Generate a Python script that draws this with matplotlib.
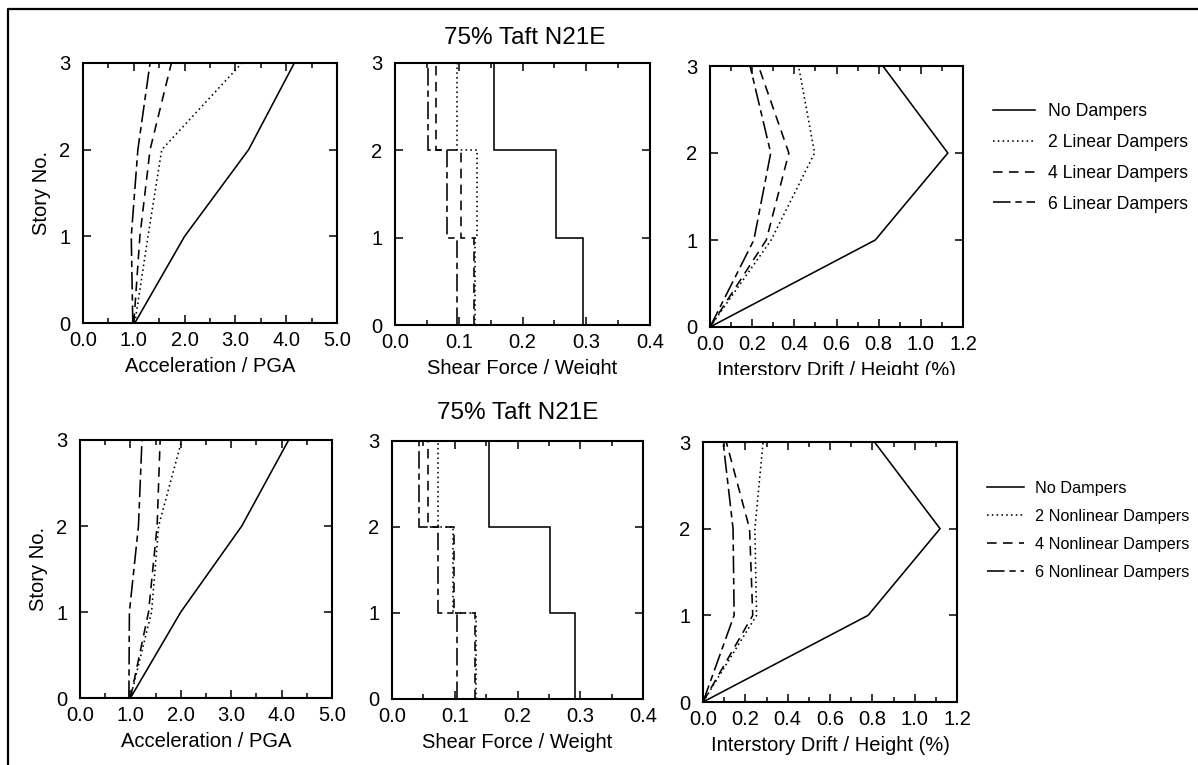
import matplotlib
matplotlib.use("Agg")
import matplotlib.pyplot as plt
from matplotlib.lines import Line2D
from matplotlib.patches import Rectangle
from matplotlib.ticker import MultipleLocator, FormatStrFormatter

plt.rcParams["font.family"] = ["Liberation Sans", "DejaVu Sans"]

# ---------------- data ----------------
story_levels = [0, 1, 2, 3]          # floor levels for acceleration / drift profiles
story_edges = [0, 1, 2, 3]           # story boundaries for shear steps

title_text = "75% Taft N21E"
labels_linear = ["No Dampers", "2 Linear Dampers", "4 Linear Dampers", "6 Linear Dampers"]
labels_nonlinear = ["No Dampers", "2 Nonlinear Dampers", "4 Nonlinear Dampers", "6 Nonlinear Dampers"]

# Linear dampers (upper row)
acc_lin_none = [1.02, 2.00, 3.26, 4.16]
acc_lin_2 = [1.02, 1.28, 1.55, 3.13]
acc_lin_4 = [1.00, 1.12, 1.32, 1.74]
acc_lin_6 = [0.98, 0.95, 1.08, 1.32]

shear_lin_none = [0.295, 0.253, 0.156]
shear_lin_2 = [0.126, 0.129, 0.097]
shear_lin_4 = [0.124, 0.104, 0.064]
shear_lin_6 = [0.097, 0.082, 0.051]

drift_lin_none = [0.0, 0.784, 1.128, 0.820]
drift_lin_2 = [0.0, 0.290, 0.496, 0.420]
drift_lin_4 = [0.0, 0.267, 0.374, 0.230]
drift_lin_6 = [0.0, 0.208, 0.288, 0.190]

# Nonlinear dampers (lower row)
acc_nl_none = [1.00, 2.00, 3.21, 4.14]
acc_nl_2 = [1.00, 1.42, 1.56, 2.02]
acc_nl_4 = [1.00, 1.36, 1.53, 1.59]
acc_nl_6 = [0.97, 0.98, 1.16, 1.23]

shear_nl_none = [0.292, 0.251, 0.155]
shear_nl_2 = [0.134, 0.097, 0.074]
shear_nl_4 = [0.133, 0.099, 0.058]
shear_nl_6 = [0.103, 0.073, 0.043]

drift_nl_none = [0.0, 0.780, 1.120, 0.810]
drift_nl_2 = [0.0, 0.253, 0.245, 0.284]
drift_nl_4 = [0.0, 0.235, 0.220, 0.110]
drift_nl_6 = [0.0, 0.147, 0.142, 0.095]

# ---------------- styling ----------------
STYLES = ["-", (0, (1, 2)), (0, (6, 4)), (0, (11, 3, 4, 3))]
LW = 1.15
TICK_FS = 14.5
LABEL_FS = 14.5

W, H = 1198, 765
fig = plt.figure(figsize=(W / 100, H / 100), dpi=100)
fig.patch.set_facecolor("white")


def axes_px(left, right, top, bottom):
    return fig.add_axes([left / W, 1 - bottom / H, (right - left) / W, (bottom - top) / H])


def style_axes(ax, xmax, major, minor, fmt, xlabel, ylabel=None):
    ax.set_xlim(0, xmax)
    ax.set_ylim(0, 3)
    ax.xaxis.set_major_locator(MultipleLocator(major))
    ax.xaxis.set_minor_locator(MultipleLocator(minor))
    ax.xaxis.set_major_formatter(FormatStrFormatter(fmt))
    ax.yaxis.set_major_locator(MultipleLocator(1))
    ax.tick_params(which="both", direction="in", top=True, right=True, width=1.1)
    ax.tick_params(which="major", length=6, labelsize=TICK_FS)
    ax.tick_params(which="minor", length=3.5)
    ax.tick_params(axis="x", pad=6)
    ax.tick_params(axis="y", pad=9)
    for s in ax.spines.values():
        s.set_linewidth(1.5)
    ax.set_xlabel(xlabel, fontsize=LABEL_FS, labelpad=5)
    if ylabel:
        ax.set_ylabel(ylabel, fontsize=LABEL_FS, labelpad=6)


def profile(ax, series, labels):
    handles = []
    for vals, ls, lab in zip(series, STYLES, labels):
        (ln,) = ax.plot(vals, story_levels, color="black", lw=LW, linestyle=ls, label=lab)
        handles.append(ln)
    return handles


def shear(ax, series):
    for vals, ls in zip(series, STYLES):
        ax.stairs(vals, story_edges, orientation="horizontal", baseline=None,
                  color="black", lw=LW, linestyle=ls)


rows = [
    dict(box=[(83, 337, 63, 323), (395, 650, 63, 325), (710, 963, 66, 327)],
         acc=[acc_lin_none, acc_lin_2, acc_lin_4, acc_lin_6],
         shr=[shear_lin_none, shear_lin_2, shear_lin_4, shear_lin_6],
         dft=[drift_lin_none, drift_lin_2, drift_lin_4, drift_lin_6],
         labels=labels_linear, title_xy=(525, 38),
         leg=dict(x=993, yc=158, fs=12.7, hl=2.4, sp=0.78)),
    dict(box=[(80, 332, 440, 698), (392, 643, 441, 699), (703, 957, 442, 702)],
         acc=[acc_nl_none, acc_nl_2, acc_nl_4, acc_nl_6],
         shr=[shear_nl_none, shear_nl_2, shear_nl_4, shear_nl_6],
         dft=[drift_nl_none, drift_nl_2, drift_nl_4, drift_nl_6],
         labels=labels_nonlinear, title_xy=(518, 413),
         leg=dict(x=987, yc=530.5, fs=11.7, hl=2.25, sp=0.8)),
]

for r in rows:
    b1, b2, b3 = r["box"]
    ax1 = axes_px(*b1)
    profile(ax1, r["acc"], r["labels"])
    style_axes(ax1, 5.0, 1.0, 0.5, "%.1f", "Acceleration / PGA", "Story No.")

    ax2 = axes_px(*b2)
    shear(ax2, r["shr"])
    style_axes(ax2, 0.4, 0.1, 0.05, "%.1f", "Shear Force / Weight")

    ax3 = axes_px(*b3)
    handles = profile(ax3, r["dft"], r["labels"])
    style_axes(ax3, 1.2, 0.2, 0.1, "%.1f", "Interstory Drift / Height (%)")

    tx, ty = r["title_xy"]
    fig.text(tx / W, 1 - ty / H, title_text, ha="center", va="center", fontsize=17.5)

    lg = r["leg"]
    fig.legend(handles=handles, loc="center left",
               bbox_to_anchor=(lg["x"] / W, 1 - lg["yc"] / H),
               frameon=False, fontsize=lg["fs"], handlelength=lg["hl"],
               handletextpad=0.7, labelspacing=lg["sp"], borderpad=0, borderaxespad=0)

# the upper figure is trimmed just below its axis labels
fig.add_artist(Rectangle((10 / W, 1 - 387 / H), 1 - 10 / W, 12 / H,
                         transform=fig.transFigure, facecolor="white",
                         edgecolor="none", zorder=10))

# page frame: left and top rules
fig.add_artist(Line2D([8 / W, 8 / W, 1.0], [0.0, 1 - 9 / H, 1 - 9 / H],
                      transform=fig.transFigure, color="black", lw=1.6, zorder=11))

fig.savefig("out.png", dpi=100, facecolor="white")
